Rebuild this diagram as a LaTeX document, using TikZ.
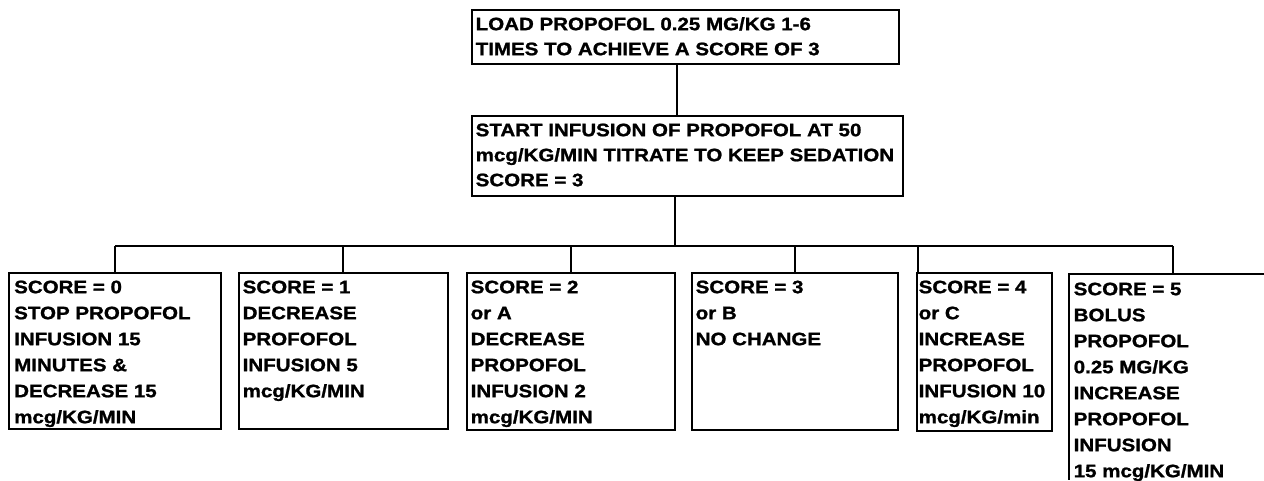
\documentclass[tikz,border=0pt]{standalone}
\usepackage{fontspec}
\newfontfamily\boxfont{Liberation Sans}[FakeStretch=1.14, FakeBold=1.2]
\begin{document}
\begin{tikzpicture}[x=1pt,y=-1pt,
  box/.style={draw, line width=2pt, inner sep=0pt, anchor=north west},
  txt/.style={anchor=north west, inner sep=0pt, align=left,
    font=\boxfont\bfseries\fontsize{18}{26}\selectfont},
  ttxt/.style={txt, font=\boxfont\bfseries\fontsize{18}{25}\selectfont},
  conn/.style={line width=2pt}]
\useasboundingbox (0,0) rectangle (1264,480);
\fill[white] (0,0) rectangle (1264,480);

% top boxes
\node[box, minimum width=427pt, minimum height=54pt] (top) at (471,9) {};
\node[ttxt] (ttop) at (475.5,9) {\rule{0pt}{21pt}LOAD PROPOFOL 0.25 MG/KG 1-6\\TIMES TO ACHIEVE A SCORE OF 3};
\node[box, minimum width=431pt, minimum height=80pt] (second) at (471,115) {};
\node[ttxt] (tsecond) at (475.5,115) {\rule{0pt}{21pt}START INFUSION OF PROPOFOL AT 50\\mcg/KG/MIN TITRATE TO KEEP SEDATION\\SCORE = 3};

% bottom boxes
\node[box, minimum width=212pt, minimum height=156pt] (b0) at (8,272) {};
\node[txt] (t0) at (14,272) {\rule{0pt}{21pt}SCORE = 0\\STOP PROPOFOL\\INFUSION 15\\MINUTES \&\\DECREASE 15\\mcg/KG/MIN};
\node[box, minimum width=209pt, minimum height=156pt] (b1) at (238,272) {};
\node[txt] (t1) at (242.5,272) {\rule{0pt}{21pt}SCORE = 1\\DECREASE\\PROFOFOL\\INFUSION 5\\mcg/KG/MIN};
\node[box, minimum width=208pt, minimum height=157pt] (b2) at (466,272) {};
\node[txt] (t2) at (470.5,272) {\rule{0pt}{21pt}SCORE = 2\\or A\\DECREASE\\PROPOFOL\\INFUSION 2\\mcg/KG/MIN};
\node[box, minimum width=206pt, minimum height=157pt] (b3) at (691,272) {};
\node[txt] (t3) at (695.5,272) {\rule{0pt}{21pt}SCORE = 3\\or B\\NO CHANGE};
\node[box, minimum width=135pt, minimum height=158pt] (b4) at (916,272) {};
\node[txt] (t4) at (918.5,272) {\rule{0pt}{21pt}SCORE = 4\\or C\\INCREASE\\PROPOFOL\\INFUSION 10\\mcg/KG/min};

% open box 5
\coordinate (b5) at (1069,274);
\coordinate (b5r) at (1264,274);
\coordinate (b5b) at (1069,480);
\draw[conn] (b5r) -- (b5) -- (b5b);
\node[txt] (t5) at (1073.5,274) {\rule{0pt}{21pt}SCORE = 5\\BOLUS\\PROPOFOL\\0.25 MG/KG\\INCREASE\\PROPOFOL\\INFUSION\\15 mcg/KG/MIN};

% connectors
\coordinate (x1) at (677,0);
\coordinate (bus) at (675,246);
\coordinate (d0) at (115,246);
\coordinate (d1) at (343,246);
\coordinate (d2) at (571,246);
\coordinate (d3) at (795,246);
\coordinate (d4) at (918,246);
\coordinate (d5) at (1173,246);
\draw[conn] (top.south -| x1) -- (second.north -| x1);
\draw[conn] (second.south -| bus) -- (bus);
\draw[conn] (d0) -- (d5);
\draw[conn] (d0) -- (d0 |- b0.north);
\draw[conn] (d1) -- (d1 |- b1.north);
\draw[conn] (d2) -- (d2 |- b2.north);
\draw[conn] (d3) -- (d3 |- b3.north);
\draw[conn] (d4) -- (d4 |- b4.north);
\draw[conn] (d5) -- (d5 |- b5);
\end{tikzpicture}
\end{document}
